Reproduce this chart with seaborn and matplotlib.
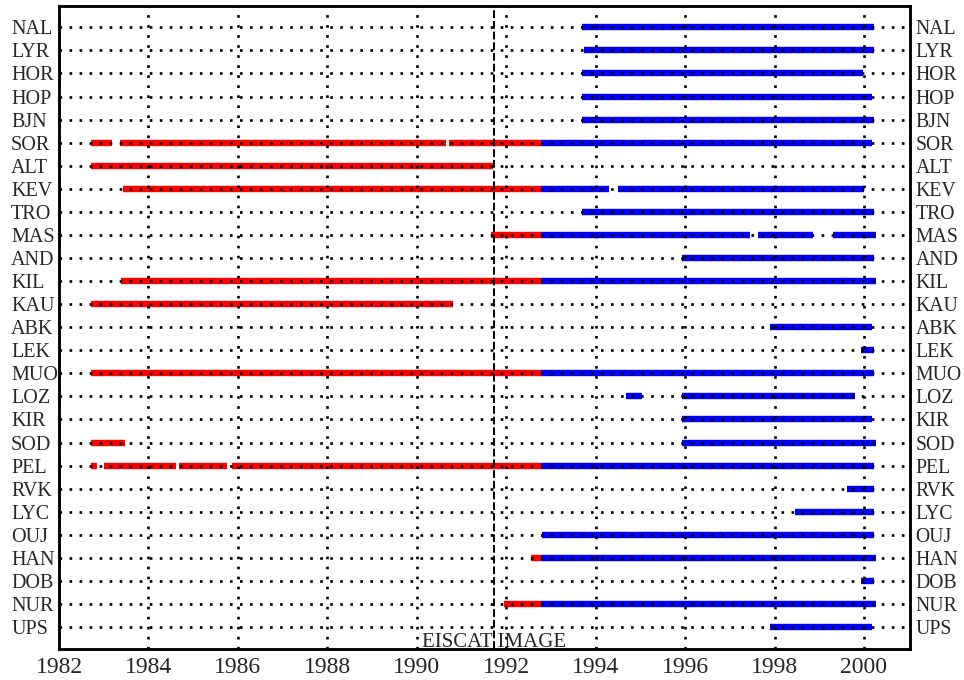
import numpy as np
import pandas as pd
import matplotlib.pyplot as plt
import seaborn as sns

# station order, top to bottom
stations = ['NAL', 'LYR', 'HOR', 'HOP', 'BJN', 'SOR', 'ALT', 'KEV', 'TRO', 'MAS',
            'AND', 'KIL', 'KAU', 'ABK', 'LEK', 'MUO', 'LOZ', 'KIR', 'SOD', 'PEL',
            'RVK', 'LYC', 'OUJ', 'HAN', 'DOB', 'NUR', 'UPS']

# EISCAT period segments (red)
eiscat_station = ['SOR', 'SOR', 'SOR', 'ALT', 'KEV', 'MAS', 'KIL', 'KAU', 'MUO', 'SOD',
                  'PEL', 'PEL', 'PEL', 'PEL', 'HAN', 'NUR']
eiscat_start = [1982.71, 1983.36, 1990.71, 1982.71, 1983.43, 1991.65, 1983.38, 1982.71, 1982.71, 1982.71,
                1982.71, 1983.01, 1984.68, 1985.87, 1992.55, 1991.94]
eiscat_end = [1983.18, 1990.66, 1992.77, 1991.70, 1992.77, 1992.77, 1992.77, 1990.80, 1992.77, 1983.47,
              1982.85, 1984.61, 1985.75, 1992.77, 1992.77, 1992.77]

# IMAGE period segments (blue)
image_station = ['NAL', 'LYR', 'HOR', 'HOP', 'BJN', 'SOR', 'KEV', 'KEV', 'TRO', 'MAS', 'MAS', 'MAS',
                 'AND', 'KIL', 'ABK', 'LEK', 'MUO', 'LOZ', 'LOZ', 'KIR', 'SOD', 'PEL', 'RVK',
                 'LYC', 'OUJ', 'HAN', 'DOB', 'NUR', 'UPS']
image_start = [1993.69, 1993.73, 1993.69, 1993.69, 1993.69, 1992.77, 1992.77, 1994.51, 1993.69, 1992.77, 1997.62, 1999.30,
               1995.94, 1992.77, 1997.91, 1999.94, 1992.77, 1994.69, 1995.94, 1995.94, 1995.94, 1992.77, 1999.63,
               1998.45, 1992.79, 1992.77, 1999.94, 1992.77, 1997.91]
image_end = [2000.23, 2000.23, 1999.97, 2000.17, 2000.23, 2000.17, 1994.31, 1999.99, 2000.23, 1997.46, 1998.85, 2000.28,
             2000.23, 2000.28, 2000.17, 2000.23, 2000.23, 1995.03, 1999.81, 2000.17, 2000.28, 2000.23, 2000.23,
             2000.23, 2000.23, 2000.28, 2000.23, 2000.28, 2000.17]

year_ticks = list(range(1982, 2001, 2))
split_year = 1991.73

pos = {s: len(stations) - 1 - i for i, s in enumerate(stations)}

rows = []
seg = 0
for net, sts, starts, ends in [('EISCAT', eiscat_station, eiscat_start, eiscat_end),
                               ('IMAGE', image_station, image_start, image_end)]:
    for st, a, b in zip(sts, starts, ends):
        rows.append([seg, net, a, pos[st]])
        rows.append([seg, net, b, pos[st]])
        seg += 1
df = pd.DataFrame(rows, columns=['seg', 'network', 'year', 'pos'])

sns.set_style('white')
plt.rcParams['font.family'] = ['Liberation Serif', 'DejaVu Serif']

fig, ax = plt.subplots(figsize=(9.64, 6.8), dpi=100)
fig.subplots_adjust(left=0.0612, right=0.944, bottom=0.0456, top=0.991)

sns.lineplot(data=df, x='year', y='pos', hue='network', units='seg', estimator=None,
             palette={'EISCAT': '#ff0000', 'IMAGE': '#0000ff'}, lw=4.6, legend=False,
             solid_capstyle='butt', sort=False, ax=ax)

ax.set_xlim(1982, 2001.03)
ax.set_ylim(-0.95, 26.92)
ax.set_xticks(year_ticks)
ax.set_yticks(list(pos.values()), labels=list(pos.keys()))
ax.set_xlabel('')
ax.set_ylabel('')
ax.grid(True, color='black', ls=(0, (1, 2.8)), lw=1.9)
ax.set_axisbelow(False)
ax.tick_params(axis='x', length=0, pad=6, labelsize=17)
ax.tick_params(axis='y', length=0, pad=34.5, labelsize=14.5)
plt.setp(ax.get_yticklabels(), ha='left')

ax2 = ax.twinx()
ax2.set_ylim(ax.get_ylim())
ax2.set_yticks(list(pos.values()), labels=list(pos.keys()))
ax2.tick_params(axis='y', length=0, pad=4, labelsize=14.2)
ax2.grid(False)

for a in (ax, ax2):
    for sp in a.spines.values():
        sp.set_color('black')
        sp.set_linewidth(1.8)

ax.axvline(split_year, color='black', ls=(0, (4, 1.5)), lw=1.4, zorder=3)
ax.text(split_year, -0.87, 'EISCAT IMAGE', ha='center', va='baseline', fontsize=15)

fig.savefig('out.png', dpi=100)
plt.close(fig)
